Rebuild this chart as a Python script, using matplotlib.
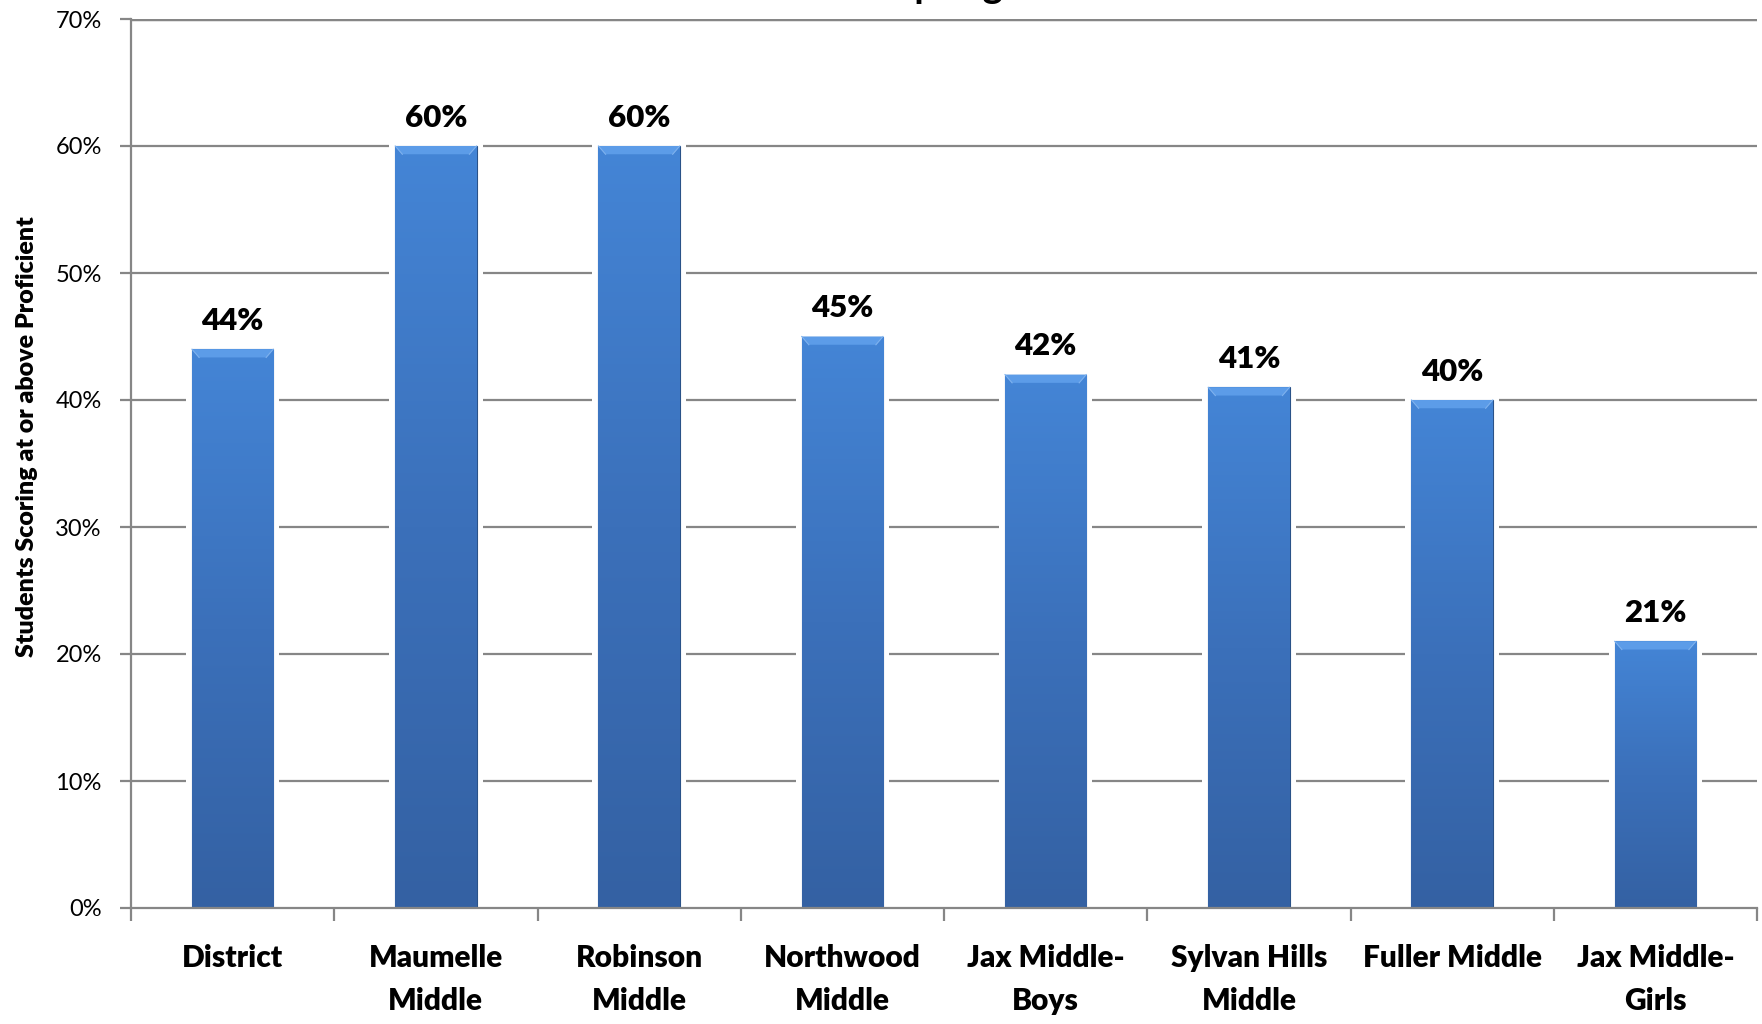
import numpy as np
import matplotlib.pyplot as plt
from matplotlib.patches import Polygon
from matplotlib.colors import LinearSegmentedColormap

schools = ['District', 'Maumelle\nMiddle', 'Robinson\nMiddle', 'Northwood\nMiddle',
           'Jax Middle-\nBoys', 'Sylvan Hills\nMiddle', 'Fuller Middle', 'Jax Middle-\nGirls']
proficient = [0.44, 0.60, 0.60, 0.45, 0.42, 0.41, 0.40, 0.21]
value_labels = ['44%', '60%', '60%', '45%', '42%', '41%', '40%', '21%']
y_ticks = [0.0, 0.1, 0.2, 0.3, 0.4, 0.5, 0.6, 0.7]
y_tick_labels = ['0%', '10%', '20%', '30%', '40%', '50%', '60%', '70%']

plt.rcParams['font.family'] = ['Lato', 'DejaVu Sans']

fig = plt.figure(figsize=(17.62, 10.24), dpi=100)
ax = fig.add_axes([131/1762, 1 - 908/1024, (1757 - 131)/1762, (908 - 19)/1024])

x = np.arange(len(schools))
bar_w = 0.4
grey = '#868686'

# grid behind everything
for t in y_ticks[1:]:
    ax.axhline(t, color=grey, lw=1.6, zorder=0)

# white halo around bars so gridlines stop short of them
ax.bar(x, np.array(proficient) + 0.004, width=bar_w + 0.06, color='white', zorder=1)
bars = ax.bar(x, proficient, width=bar_w, color='#3d74c0', edgecolor='#2a5288', lw=0.8, zorder=2)

# vertical gradient inside each bar
cmap = LinearSegmentedColormap.from_list('blu', ['#3461a3', '#3b70ba', '#4485d6'])
grad = np.linspace(0, 1, 256).reshape(-1, 1)
for b in bars:
    x0, w, h = b.get_x(), b.get_width(), b.get_height()
    im = ax.imshow(grad, cmap=cmap, origin='lower', aspect='auto',
                   extent=(x0, x0 + w, 0, h), zorder=2.1)
    im.set_clip_path(b)
    # top bevel
    dx, dy = 0.035, 0.0065
    ax.add_patch(Polygon([(x0, h), (x0 + w, h), (x0 + w - dx, h - dy), (x0 + dx, h - dy)],
                         closed=True, color='#5c9ce8', lw=0, zorder=2.2))
    ax.plot([x0, x0 + dx], [h, h - dy], color='#7fb2ee', lw=0.8, zorder=2.3)
    ax.plot([x0 + w, x0 + w - dx], [h, h - dy], color='#7fb2ee', lw=0.8, zorder=2.3)

for xi, v, lab in zip(x, proficient, value_labels):
    ax.annotate(lab, (xi, v), xytext=(0, 14), textcoords='offset points',
                ha='center', va='baseline', fontsize=22.5, fontweight='heavy', zorder=3)

ax.set_xlim(-0.5, len(schools) - 0.5)
ax.set_ylim(0, 0.7)
ax.set_yticks(y_ticks)
ax.set_yticklabels(y_tick_labels, fontsize=17)
ax.set_xticks(x)
ax.set_xticklabels(schools, fontsize=21.5, fontweight='heavy', linespacing=1.65)
ax.set_xticks(np.arange(len(schools) + 1) - 0.5, minor=True)
ax.tick_params(axis='x', which='major', length=0, pad=26)
ax.tick_params(axis='x', which='minor', length=9, width=1.6, color=grey)
ax.tick_params(axis='y', length=8, width=1.6, color=grey, pad=13)

for side in ['top', 'right']:
    ax.spines[side].set_visible(False)
for side in ['left', 'bottom']:
    ax.spines[side].set_color(grey)
    ax.spines[side].set_linewidth(1.6)
ax.spines['left'].set_zorder(4)
ax.spines['bottom'].set_zorder(4)
ax.axhline(0.7, color=grey, lw=2.5, zorder=0)

ax.set_ylabel('Students Scoring at or above Proficient', fontsize=18, fontweight='heavy', va='center')
ax.yaxis.set_label_coords(-0.064, 0.53)

# title sits mostly off the top of the canvas
fig.text(998/1762, 1 + 2/1024, 'Spring 2009', ha='center', va='baseline',
         fontsize=28, fontweight='bold')

fig.savefig('out.png', dpi=100)
